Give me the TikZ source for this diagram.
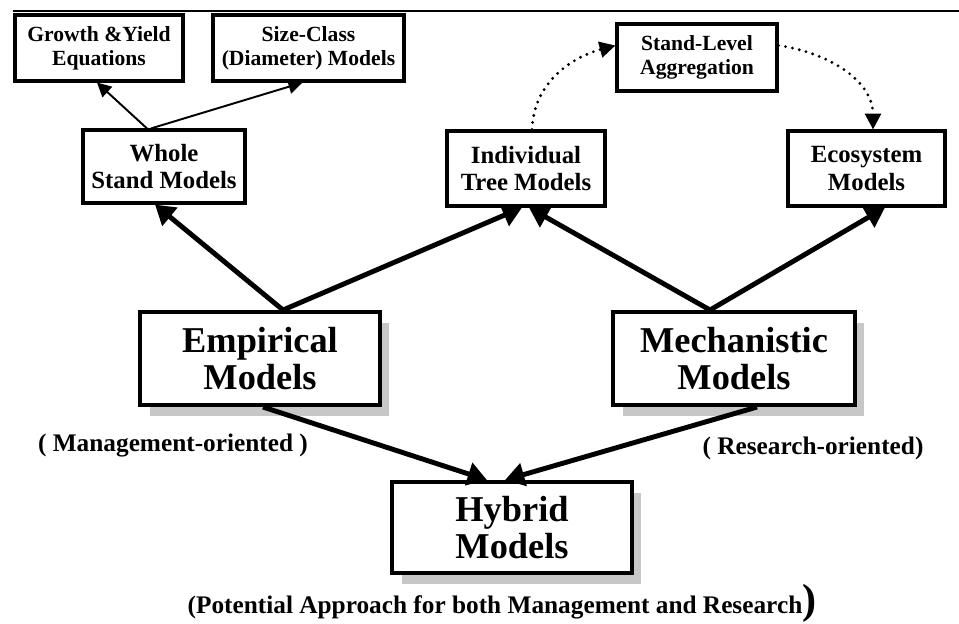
\documentclass[tikz,border=0pt]{standalone}
\usepackage{fontspec}
\setmainfont{Liberation Serif}
\usetikzlibrary{arrows.meta,shadows}

\begin{document}
\begin{tikzpicture}[x=0.02cm,y=-0.02cm,
    smallbox/.style={draw=black,line width=1.8pt,align=center,inner sep=0pt,
        font=\fontsize{12.3}{13.5}\selectfont\bfseries},
    midbox/.style={draw=black,line width=1.8pt,align=center,inner sep=0pt,
        font=\fontsize{14.1}{15.5}\selectfont\bfseries},
    bigbox/.style={draw=black,line width=2.3pt,fill=white,align=center,inner sep=0pt,
        font=\fontsize{20.7}{21.5}\selectfont\bfseries,
        drop shadow={shadow xshift=0.19cm,shadow yshift=-0.21cm,fill=black!22,opacity=1}},
    note/.style={font=\fontsize{14.4}{16}\selectfont\bfseries},
    thinarrow/.style={-{Triangle[length=8pt,width=8pt]},line width=1.1pt},
    thickarrow/.style={-{Triangle[length=11pt,width=13pt]},line width=2.8pt},
    dotarrow/.style={-{Triangle[length=9pt,width=9pt]},line width=1.8pt,
        dash pattern=on 0pt off 4pt,line cap=round}]
    \useasboundingbox (0,0) rectangle (959,623);
    \draw[line width=0.6pt] (13,11) -- (959,11);

    % top row
    \node[smallbox,minimum width=3.36cm,minimum height=1.32cm] (grow) at (99,48) {Growth \&Yield\\Equations};
    \node[smallbox,minimum width=3.82cm,minimum height=1.32cm] (size) at (308.5,48) {Size-Class\\(Diameter) Models};
    \node[smallbox,minimum width=3.2cm,minimum height=1.34cm] (stand) at (697,57.5) {Stand-Level\\Aggregation};

    % second row
    \node[midbox,minimum width=3.24cm,minimum height=1.46cm] (whole) at (164,166.5) {Whole\\Stand Models};
    \node[midbox,minimum width=3.16cm,minimum height=1.5cm] (indiv) at (526,168.5) {Individual\\Tree Models};
    \node[midbox,minimum width=3.14cm,minimum height=1.5cm] (eco) at (866.5,168.5) {Ecosystem\\Models};

    % main boxes
    \node[bigbox,minimum width=4.8cm,minimum height=1.86cm] (emp) at (260,358.5) {Empirical\\Models};
    \node[bigbox,minimum width=4.84cm,minimum height=1.86cm] (mech) at (734,358.5) {Mechanistic\\Models};
    \node[bigbox,minimum width=4.8cm,minimum height=1.82cm] (hyb) at (512,527.5) {Hybrid\\Models};

    \node[note] (mgmt) at (173,446) {( Management-oriented )};
    \node[note] (res) at (813,448) {( Research-oriented)};
    \node[note] (both) at (502,603) {(Potential Approach for both Management and Research{\fontsize{24}{24}\selectfont)}};

    \draw[thinarrow] ([xshift=-0.34cm]whole.north) -- ([xshift=-0.04cm]grow.south);
    \draw[thinarrow] ([xshift=-0.26cm]whole.north) -- ([xshift=-0.12cm]size.south);

    \draw[thickarrow] ([xshift=0.46cm]emp.north) -- ([xshift=-0.18cm]whole.south);
    \draw[thickarrow] ([xshift=0.46cm]emp.north) -- ([xshift=-0.08cm]indiv.south);
    \draw[thickarrow] ([xshift=-0.48cm]mech.north) -- ([xshift=0.06cm]indiv.south);
    \draw[thickarrow] ([xshift=-0.48cm]mech.north) -- ([xshift=0.37cm]eco.south);
    \draw[thickarrow] ([xshift=0.06cm]emp.south) -- ([xshift=-0.5cm]hyb.north);
    \draw[thickarrow] ([xshift=0.46cm]mech.south) -- ([xshift=-0.14cm]hyb.north);

    \draw[dotarrow] ([xshift=0.12cm]indiv.north) to[out=88,in=195] ([yshift=0.24cm]stand.west);
    \draw[dotarrow] ([yshift=0.24cm]stand.east) to[out=-8,in=90] ([xshift=0.13cm]eco.north);
\end{tikzpicture}
\end{document}
